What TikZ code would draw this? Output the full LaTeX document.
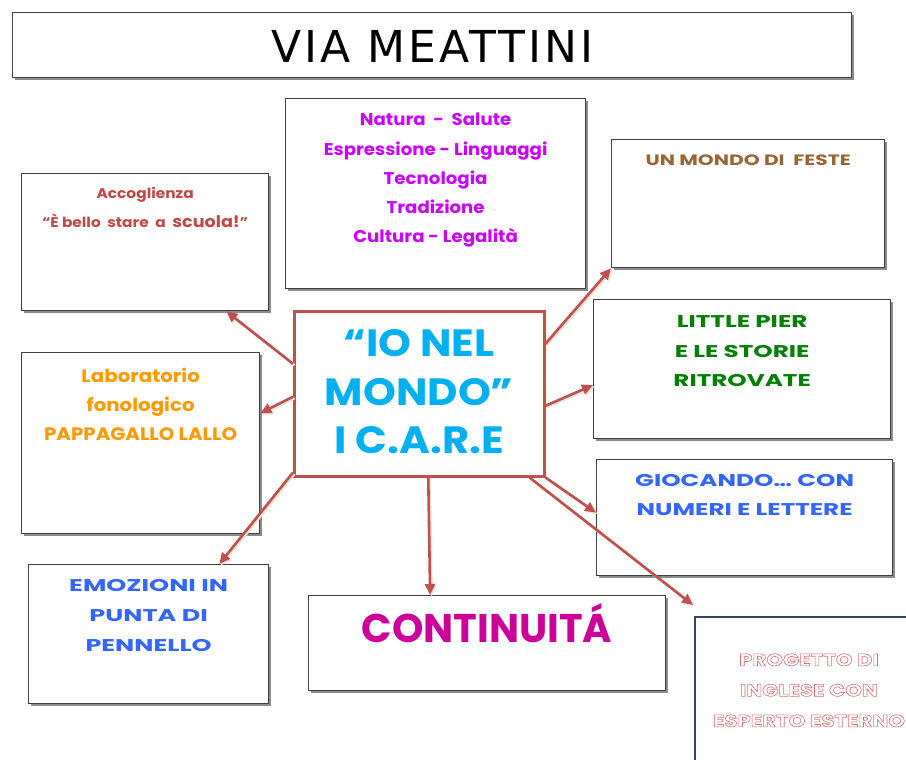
\documentclass[tikz,border=0pt]{standalone}
\usepackage{fontspec}
\setmainfont{Poppins}
\newfontfamily\titlefont{DejaVu Sans}[LetterSpace=7]
\usepackage{tikz}
\usetikzlibrary{arrows.meta,shadows,positioning}
\definecolor{linkred}{RGB}{192,80,77}
\definecolor{linkshade}{RGB}{232,228,214}
\definecolor{purp}{RGB}{204,0,255}
\definecolor{accred}{RGB}{192,72,72}
\definecolor{festebrown}{RGB}{153,102,51}
\definecolor{piergreen}{RGB}{0,128,0}
\definecolor{laborange}{RGB}{255,153,0}
\definecolor{iocyan}{RGB}{0,176,240}
\definecolor{numblue}{RGB}{51,102,255}
\definecolor{contmag}{RGB}{204,0,153}
\definecolor{progpink}{RGB}{214,110,115}
\definecolor{progblue}{RGB}{44,72,110}
\newcommand{\hollow}[1]{\special{pdf:literal direct 1 Tr 0.6 w}#1\special{pdf:literal direct 0 Tr}}
\newcommand{\wide}[1]{\addfontfeature{FakeStretch=#1}}
\tikzset{
  box/.style={draw=black!75, line width=1.3pt, fill=white, anchor=north west,
    drop shadow={shadow xshift=2pt, shadow yshift=-2pt, shadow scale=1, fill=black!45, opacity=1}},
  hub/.style={box, draw=linkred, line width=2.5pt},
  lbl/.style={anchor=north, align=center, inner sep=0pt, font=\bfseries},
  link/.style={draw=linkred, line width=2.6pt, -{Triangle[length=11pt,width=10pt]},
    preaction={draw=linkshade, line width=2.6pt, transform canvas={shift={(1.5pt,-1.5pt)}}}}
}
\begin{document}
\begin{tikzpicture}[x=1pt, y=-1pt]
\useasboundingbox (0,0) rectangle (906,760);

% boxes
\node[box, minimum width=839pt, minimum height=65pt] (title) at (12,12) {};
\node[box, minimum width=300pt, minimum height=190pt] (temi) at (285,98) {};
\node[box, minimum width=247pt, minimum height=137pt] (acc) at (21,173) {};
\node[box, minimum width=273pt, minimum height=128pt] (feste) at (611,139) {};
\node[box, minimum width=297pt, minimum height=139pt] (pier) at (593,299) {};
\node[box, minimum width=238pt, minimum height=181pt] (lab) at (21,352) {};
\node[hub, minimum width=250pt, minimum height=165pt] (io) at (293,310) {};
\node[box, minimum width=296pt, minimum height=116pt] (gio) at (596,459) {};
\node[box, minimum width=240pt, minimum height=139pt] (emo) at (28,564) {};
\node[box, minimum width=357pt, minimum height=95pt] (cont) at (308,595) {};
\node[box, draw=progblue, line width=2pt, minimum width=228pt, minimum height=170pt] (prog) at (694,616) {};

% texts
\node[anchor=center, inner sep=0pt] (titletext) at ([yshift=-1pt]title.center) {\titlefont\fontsize{44}{50}\selectfont VIA MEATTINI};
\node[lbl, text=purp, font=\bfseries\wide{1.07}\fontsize{17}{29.3}\selectfont] (temitext) at ([yshift=-15pt]temi.north)
  {Natura\ \ -\ \ Salute\\Espressione - Linguaggi\\Tecnologia\\Tradizione\\Cultura - Legalità};
\node[lbl, text=accred, font=\bfseries\wide{1.1}\fontsize{14}{29}\selectfont] (acctext) at ([yshift=-14.5pt]acc.north)
  {Accoglienza\\“È\ bello\ \ stare\ \ a\ \ {\fontsize{16}{29}\selectfont scuola!}”};
\node[lbl, text=festebrown, font=\bfseries\wide{1.35}\fontsize{15}{29}\selectfont] (festetext) at ([yshift=-15.5pt]feste.north)
  {UN MONDO DI\ \ FESTE};
\node[lbl, text=piergreen, font=\bfseries\wide{1.45}\fontsize{17}{29.5}\selectfont] (piertext) at ([yshift=-16.5pt]pier.north)
  {LITTLE PIER\\E LE STORIE\\RITROVATE};
\node[lbl, text=laborange, font=\bfseries\wide{1.1}\fontsize{18}{29}\selectfont] (labtext) at ([yshift=-16pt]lab.north)
  {Laboratorio\\fonologico\\PAPPAGALLO LALLO};
\node[lbl, text=iocyan, font=\bfseries\wide{1.1}\fontsize{38}{48.5}\selectfont] (iotext) at ([yshift=-19.5pt]io.north)
  {“IO NEL\\MONDO”\\I C.A.R.E};
\node[lbl, text=numblue, font=\bfseries\wide{1.45}\fontsize{17}{29}\selectfont] (giotext) at ([yshift=-15.5pt]gio.north)
  {GIOCANDO\dots\ CON\\NUMERI E LETTERE};
\node[lbl, text=numblue, font=\bfseries\wide{1.5}\fontsize{17}{30}\selectfont] (emotext) at ([yshift=-15.5pt]emo.north)
  {EMOZIONI IN\\PUNTA DI\\PENNELLO};
\node[lbl, text=contmag, font=\bfseries\fontsize{40}{46}\selectfont] (conttext) at ([yshift=-8pt]cont.north)
  {CONTINUITÁ};
\node[lbl, text=progpink, font=\bfseries\wide{1.25}\fontsize{17}{30.5}\selectfont] (progtext) at ([yshift=-37.5pt]prog.north)
  {\hollow{PROGETTO DI}\\\hollow{INGLESE CON}\\\hollow{ESPERTO ESTERNO}};

% links
\draw[link] ([yshift=30pt]io.west) -- ([xshift=-43pt]acc.south east);
\draw[link] ([yshift=-3pt]io.west) -- ([yshift=30pt]lab.east);
\draw[link] ([yshift=5pt]io.south west) -- ([xshift=-50pt]emo.north east);
\draw[link] ([xshift=9pt]io.south) -- ([xshift=-57pt]cont.north);
\draw[link] (io.south east) -- ([yshift=5pt]gio.west);
\draw[link] ([xshift=-16pt]io.south east) -- ([xshift=-1pt,yshift=11pt]prog.north west);
\draw[link] ([yshift=50pt]io.east) -- (feste.south west);
\draw[link] ([yshift=-12pt]io.east) -- ([yshift=-16pt]pier.west);
\end{tikzpicture}
\end{document}
